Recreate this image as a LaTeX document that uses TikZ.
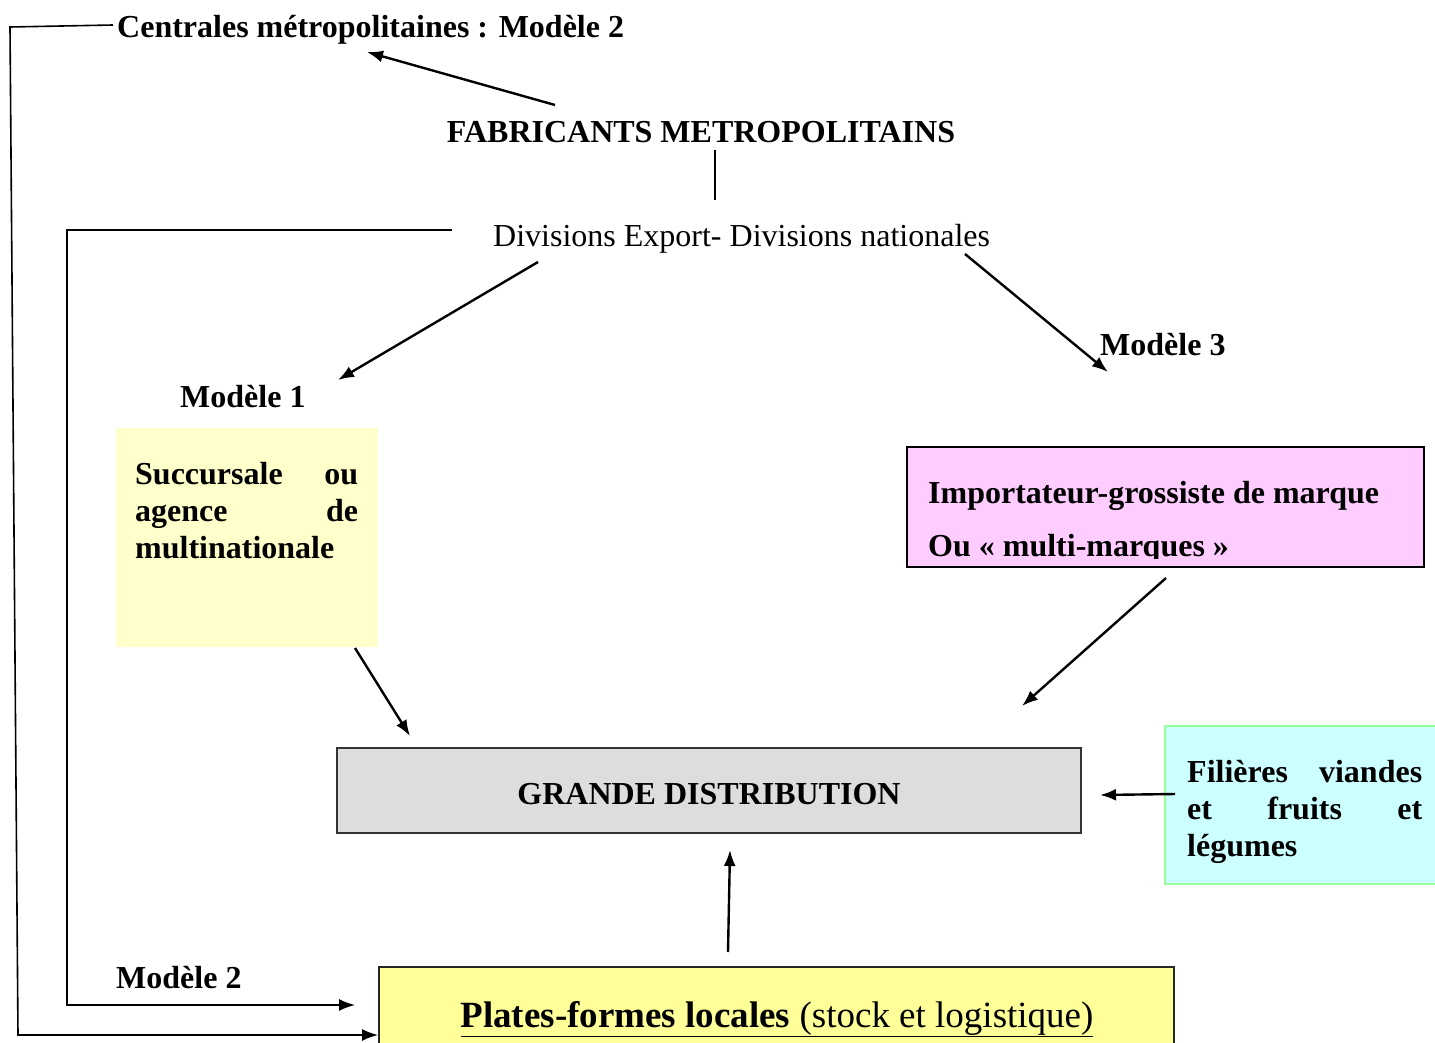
\documentclass[tikz,border=0pt]{standalone}
\usepackage{fontspec}
\setmainfont{Liberation Serif}
\usetikzlibrary{arrows.meta}
\definecolor{paleyellow}{HTML}{FFFFCC}
\definecolor{pinkfill}{HTML}{FFCCFF}
\definecolor{grayfill}{HTML}{DDDDDD}
\definecolor{cyanfill}{HTML}{CCFFFF}
\definecolor{greenborder}{HTML}{99FF99}
\definecolor{yellowfill}{HTML}{FFFF99}
\begin{document}
\begin{tikzpicture}[x=1pt,y=-1pt,
  arr/.style={line width=2.4pt,-{Latex[length=16pt,width=12pt]}},
  ln/.style={line width=1.6pt},
  bigb/.style={font=\fontsize{32}{37}\selectfont\bfseries, inner sep=0pt},
  bigr/.style={font=\fontsize{32}{37}\selectfont, inner sep=0pt},
  para/.style={bigb,anchor=north west,align=left},
]
\useasboundingbox (0,0) rectangle (1435,1043);

% boxes
\fill[paleyellow] (116,428) rectangle (378,647);
\filldraw[fill=pinkfill,draw=black,line width=1.4pt] (907,447) rectangle (1424,567);
\filldraw[fill=grayfill,draw=black!80,line width=1.4pt] (337,748) rectangle (1081,833);
\filldraw[fill=cyanfill,draw=greenborder,line width=1.6pt] (1165,726) rectangle (1436,884);
\filldraw[fill=yellowfill,draw=black!85,line width=1.4pt] (379,967) rectangle (1174,1045);

% texts
\node[bigb,anchor=base west] (centr) at (117,38) {Centrales métropolitaines : Modèle 2};
\node[bigb,anchor=base] (fab) at (701,143) {FABRICANTS METROPOLITAINS};
\node[bigr,anchor=base west] (div) at (493,247) {Divisions Export- Divisions nationales};
\node[bigb,anchor=base west] (m3) at (1100,355) {Modèle 3};
\node[bigb,anchor=base west] (m1) at (180,407) {Modèle 1};
\node[para,text width=223pt] (succtext) at (135,462)
  {Succursale\hfill ou\\ agence\hfill de\\ multinationale};
\begin{scope}
\clip (907,447) rectangle (1424,558);
\node[bigb,anchor=base west] (imp1) at (928,503) {Importateur-grossiste de marque};
\node[bigb,anchor=base west] (imp2) at (928,556) {Ou « multi-marques »};
\end{scope}
\node[bigb,anchor=base] (gd) at (709,804) {GRANDE DISTRIBUTION};
\node[para,text width=235pt] (fil) at (1187,760)
  {Filières\hfill viandes\\ et\hfill fruits\hfill et\\ légumes};
\node[bigb,anchor=base west] (m2) at (116,988) {Modèle 2};
\node[font=\fontsize{37}{42}\selectfont,inner sep=0pt,anchor=base] (pf) at (777,1027)
  {\underline{\textbf{Plates-formes locales} (stock et logistique)}};

% coordinates
\coordinate (a1s) at (555,105); \coordinate (a1e) at (367,52);
\coordinate (v1) at (715,150); \coordinate (v2) at (715,200);
\coordinate (d1) at (538,262); \coordinate (d1e) at (338,380);
\coordinate (d3) at (965,254); \coordinate (d3e) at (1108,372);
\coordinate (i1) at (1166,578); \coordinate (i1e) at (1022,706);
\coordinate (s1) at (355,648); \coordinate (s1e) at (410,736);
\coordinate (f1) at (1175,794); \coordinate (f1e) at (1100,795);
\coordinate (p1) at (728,952); \coordinate (p1e) at (730,850);
\coordinate (l1) at (452,230); \coordinate (l1e) at (355,1005);
\coordinate (c1) at (113,25); \coordinate (c1e) at (378,1035);

% connectors
\draw[arr] (a1s) -- (a1e);
\draw[ln] (v1) -- (v2);
\draw[arr] (d1) -- (d1e);
\draw[arr] (d3) -- (d3e);
\draw[arr] (i1) -- (i1e);
\draw[arr] (s1) -- (s1e);
\draw[arr] (f1) -- (f1e);
\draw[arr] (p1) -- (p1e);
\draw[ln,-{Latex[length=16pt,width=12pt]}] (l1) -- (67,230) -- (67,1005) -- (l1e);
\draw[ln,-{Latex[length=16pt,width=12pt]}] (c1) -- (10,27) -- (18,1035) -- (c1e);
\end{tikzpicture}
\end{document}
